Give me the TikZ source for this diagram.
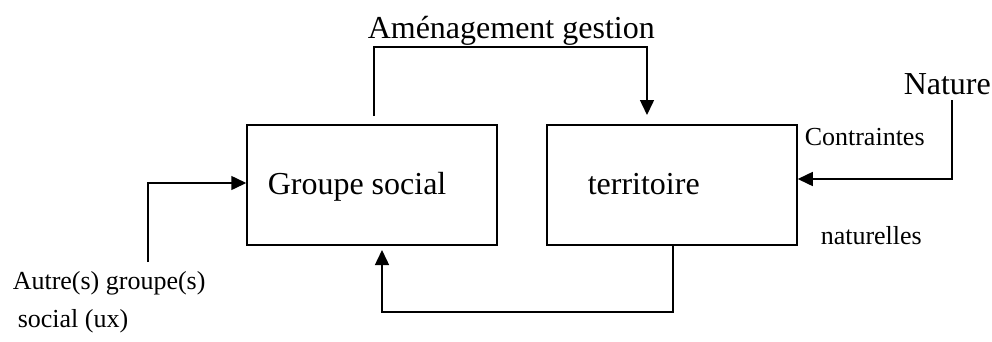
\documentclass[tikz,border=0pt]{standalone}
\usepackage{fontspec}
\setmainfont{Liberation Serif}
\usetikzlibrary{arrows.meta}
\begin{document}
\begin{tikzpicture}[x=1pt,y=-1pt,
  line width=1.5pt,
  bigtext/.style={font=\fontsize{32}{38}\selectfont, inner sep=0pt, anchor=base west},
  smalltext/.style={font=\fontsize{26}{31}\selectfont, inner sep=0pt, anchor=base west},
  boxnode/.style={draw, minimum width=250pt, minimum height=120pt, inner sep=0pt},
  flow/.style={-{Triangle[length=15pt,width=14pt]}}]
\useasboundingbox (0,0) rectangle (992,341);
% the two boxes
\node[boxnode] (grp) at (372,185) {};
\node[boxnode] (ter) at (672,185) {};
\node[bigtext] at (267,194) {Groupe social};
\node[bigtext] at (587,194) {territoire};
% labels
\node[bigtext] (amg) at (367,38) {Aménagement gestion};
\node[bigtext] (nat) at (903,94) {Nature};
\node[smalltext] (con) at (804,145) {Contraintes};
\node[smalltext] (natl) at (820,244) {naturelles};
\node[smalltext] (aut) at (12,289) {Autre(s) groupe(s)};
\node[smalltext] (soc) at (17,327) {social (ux)};
% connector endpoints
\coordinate (a1) at (374,116);
\coordinate (a2) at (647,115);
\coordinate (s1) at (148,262);
\coordinate (n1) at (952,100);
\coordinate (b1) at (673,245);
\coordinate (b2) at (382,250);
% connectors
\draw[flow] (a1) -- (374,47) -- (647,47) -- (a2);
\draw[flow] (s1) -- (148,183) -- (grp.west |- 0,183);
\draw[flow] (n1) -- (952,179) -- (ter.east |- 0,179);
\draw[flow] (b1 |- ter.south) -- (673,312) -- (382,312) -- (b2);
\end{tikzpicture}
\end{document}
